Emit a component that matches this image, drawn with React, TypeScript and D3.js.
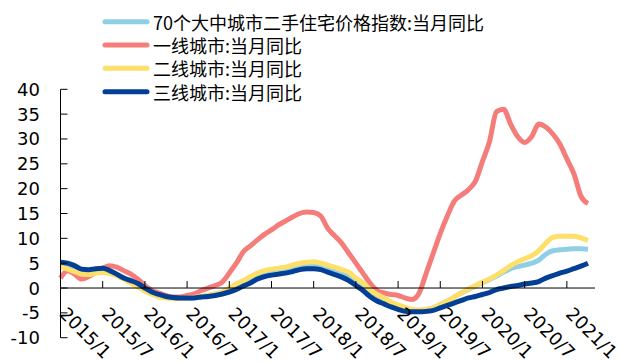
import React from "react";
import * as d3 from "d3";

// Monthly data, 2015/1 .. 2021/4 (76 months)
const tickLabels = ["2015/1","2015/7","2016/1","2016/7","2017/1","2017/7","2018/1","2018/7","2019/1","2019/7","2020/1","2020/7","2021/1"];
const yTicks = [-10, -5, 0, 5, 10, 15, 20, 25, 30, 35, 40];

const city70 = [4.7,4.3,3.8,3.2,3.1,3.4,3.5,3.2,2.7,2.0,1.3,0.5,-0.3,-1.0,-1.5,-1.8,-2.0,-2.0,-2.0,-1.9,-1.7,-1.5,-1.2,-0.9,-0.3,0.4,1.1,1.8,2.5,3.0,3.3,3.5,3.7,4.0,4.4,4.6,4.7,4.4,4.0,3.5,3.0,2.4,1.4,0.4,-0.8,-1.8,-2.5,-3.2,-3.8,-4.2,-4.5,-4.5,-4.3,-4.0,-3.3,-2.6,-1.8,-1.0,-0.3,0.4,1.1,1.7,2.4,3.2,3.9,4.3,4.6,5.0,5.6,6.8,7.5,7.7,7.8,7.9,7.9,7.8];
const tier1 = [2.0,3.5,2.8,1.8,2.3,3.2,4.0,4.5,4.2,3.5,2.8,1.8,0.5,-0.5,-1.0,-1.5,-1.8,-1.8,-1.5,-1.2,-0.5,0.0,0.5,1.2,3.0,5.0,7.3,8.5,9.7,10.8,11.7,12.7,13.5,14.3,15.0,15.3,15.2,14.5,12.0,10.5,9.0,7.0,5.0,3.0,1.0,-0.5,-1.0,-1.3,-1.5,-2.0,-2.3,-1.0,3.0,7.0,11.0,14.5,17.5,18.7,19.8,21.5,25.5,29.5,35.5,36.0,33.0,30.5,29.3,30.5,33.0,32.4,31.0,29.0,26.0,23.0,18.5,17.0];
const tier2 = [4.3,3.8,3.3,2.8,2.7,3.0,3.1,2.9,2.5,1.8,1.0,0.2,-0.6,-1.3,-1.8,-2.0,-2.1,-2.1,-2.0,-1.9,-1.7,-1.5,-1.2,-0.8,0.0,0.8,1.5,2.3,3.0,3.5,3.8,4.0,4.2,4.6,5.0,5.2,5.3,5.0,4.6,4.2,3.7,3.2,2.0,1.0,-0.3,-1.3,-2.0,-2.8,-3.4,-3.9,-4.3,-4.4,-4.3,-4.0,-3.3,-2.6,-1.8,-1.0,-0.2,0.5,1.2,1.8,2.6,3.5,4.5,5.3,5.9,6.5,7.5,9.0,10.2,10.4,10.4,10.4,10.1,9.6];
const tier3 = [5.2,5.0,4.5,3.8,3.7,3.9,4.0,3.5,2.8,2.0,1.5,0.9,0.0,-0.8,-1.3,-1.7,-1.9,-2.0,-2.0,-2.0,-1.8,-1.7,-1.5,-1.2,-0.8,-0.3,0.4,1.0,1.8,2.3,2.6,2.8,3.0,3.3,3.7,3.9,3.9,3.7,3.2,2.7,2.2,1.5,0.5,-0.5,-1.7,-2.6,-3.2,-3.8,-4.3,-4.7,-4.8,-4.8,-4.7,-4.5,-4.0,-3.5,-3.0,-2.5,-2.0,-1.7,-1.3,-0.9,-0.3,0.0,0.3,0.5,0.8,1.0,1.3,2.0,2.5,3.0,3.4,3.9,4.4,5.0];

const seriesNames = ["70个大中城市二手住宅价格指数:当月同比", "一线城市:当月同比", "二线城市:当月同比", "三线城市:当月同比"];
const seriesColors = ["#8fcfe6", "#f47d7a", "#fddf6a", "#033f95"];
const seriesData = [city70, tier1, tier2, tier3];

export default function App() {
  const width = 619, height = 362;
  const x = d3.scaleLinear().domain([0, 76]).range([60.5, 595]);
  const y = d3.scaleLinear().domain([-10, 40]).range([337.7, 89.3]);
  const line = d3.line<number>()
    .x((_, i) => x(i))
    .y((d) => y(d))
    .curve(d3.curveMonotoneX);
  const axisFont = "'DejaVu Sans', Verdana, sans-serif";
  const cjkFont = "'Noto Sans CJK SC', sans-serif";
  const legendY = [21.7, 45, 68.3, 91.7];

  return (
    <svg width={width} height={height} style={{ position: "absolute", left: 0, top: 0, background: "#fff" }}>
      {/* series */}
      {seriesData.map((s, k) => (
        <path key={k} d={line(s) || ""} fill="none" stroke={seriesColors[k]} strokeWidth={5} strokeLinejoin="round" strokeLinecap="butt" />
      ))}
      {/* y axis */}
      <line x1={x(0)} x2={x(0)} y1={y(-10)} y2={y(40)} stroke="#000" strokeWidth={1} />
      {yTicks.map((t) => (
        <g key={t}>
          <line x1={x(0)} x2={x(0) + 7} y1={y(t)} y2={y(t)} stroke="#000" strokeWidth={1} />
          <text x={40} y={y(t)} textAnchor="end" dominantBaseline="central" fontFamily={axisFont} fontSize={18} fill="#000">{t}</text>
        </g>
      ))}
      {/* x axis at zero */}
      <line x1={x(0)} x2={x(76)} y1={y(0)} y2={y(0)} stroke="#000" strokeWidth={1} />
      {tickLabels.map((lab, i) => {
        const tx = x(i * 6);
        return (
          <g key={lab}>
            <line x1={tx} x2={tx} y1={y(0)} y2={y(0) - 7} stroke="#000" strokeWidth={1} />
            <text transform={`translate(${tx - 2},${y(0) + 27}) rotate(45)`} fontFamily={axisFont} fontSize={18} fill="#000">{lab}</text>
          </g>
        );
      })}
      {/* legend */}
      {seriesNames.map((n, k) => (
        <g key={n}>
          <line x1={105} x2={147} y1={legendY[k]} y2={legendY[k]} stroke={seriesColors[k]} strokeWidth={5} strokeLinecap="round" />
          <text x={153} y={legendY[k]} dominantBaseline="central" fontFamily={cjkFont} fontSize={18} fill="#000">{n}</text>
        </g>
      ))}
    </svg>
  );
}
